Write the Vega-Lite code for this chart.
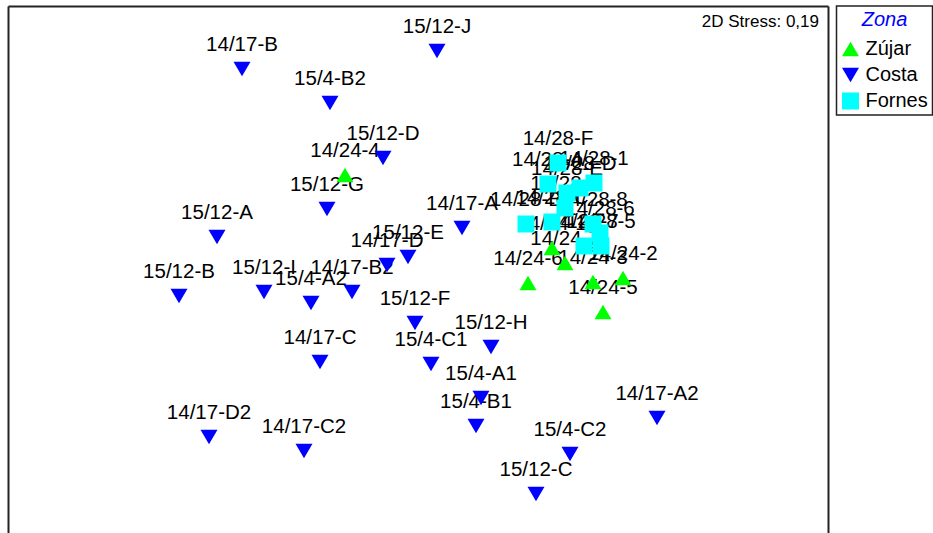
{
  "$schema": "https://vega.github.io/schema/vega-lite/v6.json",
  "width": 820,
  "height": 527,
  "autosize": {"type": "none"},
  "padding": {"left": 8, "top": 6, "right": 105, "bottom": 0},
  "background": "white",
  "data": {"values": [
    {"label": "14/17-B", "zona": "Costa", "x": -0.88, "y": 1.005},
    {"label": "15/12-J", "zona": "Costa", "x": 0.095, "y": 1.095},
    {"label": "15/4-B2", "zona": "Costa", "x": -0.44, "y": 0.835},
    {"label": "15/12-D", "zona": "Costa", "x": -0.175, "y": 0.56},
    {"label": "15/12-G", "zona": "Costa", "x": -0.455, "y": 0.305},
    {"label": "15/12-A", "zona": "Costa", "x": -1.005, "y": 0.165},
    {"label": "14/17-A", "zona": "Costa", "x": 0.22, "y": 0.21},
    {"label": "15/12-E", "zona": "Costa", "x": -0.05, "y": 0.065},
    {"label": "14/17-D", "zona": "Costa", "x": -0.155, "y": 0.025},
    {"label": "14/17-B2", "zona": "Costa", "x": -0.33, "y": -0.11},
    {"label": "15/12-I", "zona": "Costa", "x": -0.77, "y": -0.11},
    {"label": "15/4-A2", "zona": "Costa", "x": -0.535, "y": -0.165},
    {"label": "15/12-B", "zona": "Costa", "x": -1.195, "y": -0.13},
    {"label": "15/12-F", "zona": "Costa", "x": -0.015, "y": -0.265},
    {"label": "15/12-H", "zona": "Costa", "x": 0.365, "y": -0.385},
    {"label": "15/4-C1", "zona": "Costa", "x": 0.065, "y": -0.47},
    {"label": "14/17-C", "zona": "Costa", "x": -0.49, "y": -0.46},
    {"label": "15/4-A1", "zona": "Costa", "x": 0.315, "y": -0.64},
    {"label": "15/4-B1", "zona": "Costa", "x": 0.29, "y": -0.78},
    {"label": "14/17-A2", "zona": "Costa", "x": 1.195, "y": -0.74},
    {"label": "14/17-D2", "zona": "Costa", "x": -1.045, "y": -0.835},
    {"label": "14/17-C2", "zona": "Costa", "x": -0.57, "y": -0.905},
    {"label": "15/4-C2", "zona": "Costa", "x": 0.76, "y": -0.92},
    {"label": "15/12-C", "zona": "Costa", "x": 0.59, "y": -1.12},
    {"label": "14/24-4", "zona": "Zújar", "x": -0.365, "y": 0.475},
    {"label": "14/24-1", "zona": "Zújar", "x": 0.67, "y": 0.11},
    {"label": "14/24-7", "zona": "Zújar", "x": 0.735, "y": 0.035},
    {"label": "14/24-6", "zona": "Zújar", "x": 0.55, "y": -0.065},
    {"label": "14/24-3", "zona": "Zújar", "x": 0.875, "y": -0.06},
    {"label": "14/24-2", "zona": "Zújar", "x": 1.025, "y": -0.04},
    {"label": "14/24-5", "zona": "Zújar", "x": 0.925, "y": -0.21},
    {"label": "14/28-F", "zona": "Fornes", "x": 0.70, "y": 0.535},
    {"label": "14/28-A", "zona": "Fornes", "x": 0.65, "y": 0.43},
    {"label": "14/28-1", "zona": "Fornes", "x": 0.88, "y": 0.435},
    {"label": "14/28-D", "zona": "Fornes", "x": 0.81, "y": 0.41},
    {"label": "14/28-E", "zona": "Fornes", "x": 0.745, "y": 0.385},
    {"label": "14/28-4", "zona": "Fornes", "x": 0.735, "y": 0.31},
    {"label": "14/28-B", "zona": "Fornes", "x": 0.54, "y": 0.23},
    {"label": "14/28-C", "zona": "Fornes", "x": 0.67, "y": 0.24},
    {"label": "14/28-8", "zona": "Fornes", "x": 0.875, "y": 0.23},
    {"label": "14/28-6", "zona": "Fornes", "x": 0.91, "y": 0.185},
    {"label": "14/28-7", "zona": "Fornes", "x": 0.83, "y": 0.12},
    {"label": "14/28-5", "zona": "Fornes", "x": 0.915, "y": 0.12}
  ]},
  "layer": [
    {
      "mark": {"type": "text", "fontSize": 20.5, "dy": -18, "baseline": "alphabetic", "align": "center", "color": "black", "font": "Liberation Sans"},
      "encoding": {
        "x": {"field": "x", "type": "quantitative", "scale": {"domain": [-2.05, 2.05], "nice": false, "zero": false},
              "axis": {"orient": "top", "domain": true, "domainColor": "#222", "domainWidth": 2, "ticks": false, "labels": false, "grid": false, "title": null}},
        "y": {"field": "y", "type": "quantitative", "scale": {"domain": [-1.315, 1.32], "nice": false, "zero": false}, "axis": null},
        "text": {"field": "label"}
      }
    },
    {
      "mark": {"type": "point", "filled": true, "opacity": 1, "strokeWidth": 0},
      "encoding": {
        "x": {"field": "x", "type": "quantitative", "scale": {"domain": [-2.05, 2.05], "nice": false, "zero": false},
              "axis": {"orient": "top", "domain": true, "domainColor": "#222", "domainWidth": 2, "ticks": false, "labels": false, "grid": false, "title": null}},
        "y": {"field": "y", "type": "quantitative", "scale": {"domain": [-1.315, 1.32], "nice": false, "zero": false},
              "axis": {"orient": "left", "domain": true, "domainColor": "#222", "domainWidth": 2, "ticks": false, "labels": false, "grid": false, "title": null}},
        "shape": {"field": "zona", "type": "nominal", "title": "Zona",
                  "scale": {"domain": ["Zújar", "Costa", "Fornes"], "range": ["triangle-up", "triangle-down", "square"]},
                  "legend": {"orient": "none", "legendX": 828.5, "legendY": 0}},
        "color": {"field": "zona", "type": "nominal", "title": "Zona",
                  "scale": {"domain": ["Zújar", "Costa", "Fornes"], "range": ["#00FF00", "#0000FF", "#00FFFF"]},
                  "legend": {"orient": "none", "legendX": 828.5, "legendY": 0}},
        "size": {"field": "zona", "type": "nominal",
                 "scale": {"domain": ["Zújar", "Costa", "Fornes"], "range": [289, 289, 160]}, "legend": null}
      }
    },
    {
      "data": {"values": [{"s": "2D Stress: 0,19"}]},
      "mark": {"type": "text", "fontSize": 17, "align": "right", "baseline": "alphabetic", "color": "black", "font": "Liberation Sans"},
      "encoding": {
        "x": {"datum": 2.005, "type": "quantitative", "scale": {"domain": [-2.05, 2.05], "nice": false, "zero": false},
              "axis": {"orient": "top", "domain": true, "domainColor": "#222", "domainWidth": 2, "ticks": false, "labels": false, "grid": false, "title": null}},
        "y": {"datum": 1.215, "type": "quantitative", "scale": {"domain": [-1.315, 1.32], "nice": false, "zero": false},
              "axis": {"orient": "right", "domain": true, "domainColor": "#222", "domainWidth": 2, "ticks": false, "labels": false, "grid": false, "title": null}},
        "text": {"field": "s"}
      }
    }
  ],
  "resolve": {"axis": {"y": "independent"}},
  "config": {
    "view": {"stroke": null},
    "font": "Liberation Sans",
    "legend": {
      "strokeColor": "#222",
      "strokeWidth": 1.5,
      "fillColor": "white",
      "padding": 4,
      "titleFont": "Liberation Sans",
      "titleFontSize": 20,
      "titleFontWeight": "normal",
      "titleFontStyle": "italic",
      "titleColor": "#0000FF",
      "titleAnchor": "middle",
      "titlePadding": 9,
      "labelFont": "Liberation Sans",
      "labelFontSize": 20,
      "labelColor": "black",
      "labelOffset": 5,
      "symbolSize": 289,
      "symbolStrokeWidth": 0,
      "rowPadding": 6
    }
  }
}
